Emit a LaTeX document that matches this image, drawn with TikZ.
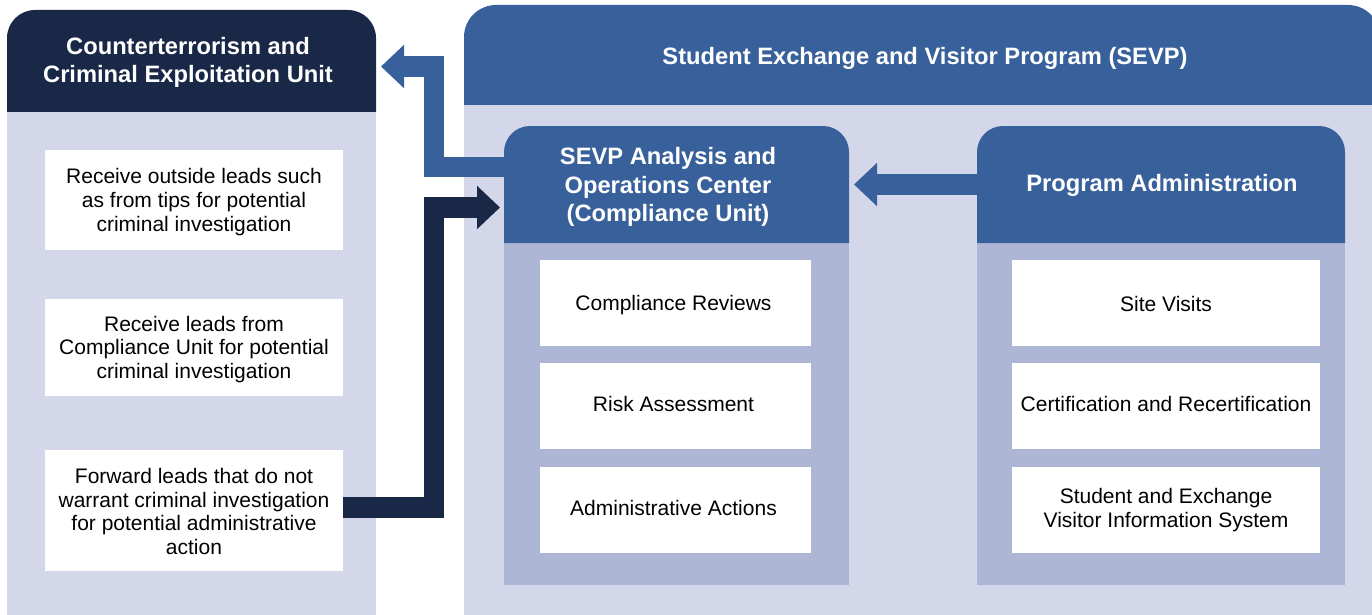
\documentclass[tikz,border=0pt]{standalone}
\usepackage{fontspec}
\setmainfont{Liberation Sans}
\usetikzlibrary{arrows.meta}
\definecolor{navy}{RGB}{26,40,72}
\definecolor{sblue}{RGB}{56,97,156}
\definecolor{lightlav}{RGB}{212,215,234}
\definecolor{midlav}{RGB}{174,182,214}
\tikzset{
  headtxt/.style={text=white,font=\fontsize{23.7}{28.7}\selectfont\bfseries,align=center,inner sep=0pt},
  bodytxt/.style={text=black,font=\fontsize{21}{23.6}\selectfont,align=center,inner sep=0pt},
  whitebox/.style={fill=white,draw=none,inner sep=0pt},
  blockarrow/.style={line width=20.5pt,line join=miter,line cap=butt,-{Triangle[length=23pt,width=42pt]}},
}
\begin{document}
\begin{tikzpicture}[x=1pt,y=-1pt]
\useasboundingbox (0,0) rectangle (1372,615);
% left panel
\fill[lightlav] (7,112) rectangle (376,615);
\fill[navy] (7,112) [rounded corners=28pt] -- (7,10) -- (376,10) [sharp corners] -- (376,112) -- cycle;
% SEVP outer
\fill[lightlav] (464,105) rectangle (1372,615);
\fill[sblue] (464,105) [rounded corners=32pt] -- (464,5) -- (1380,5) [sharp corners] -- (1380,105) -- cycle;
% inner SEVP analysis
\fill[midlav] (504,243) rectangle (849,585);
\fill[sblue] (504,243) [rounded corners=26pt] -- (504,126) -- (849,126) [sharp corners] -- (849,243) -- cycle;
% program administration
\fill[midlav] (977,243) rectangle (1345,585);
\fill[sblue] (977,243) [rounded corners=26pt] -- (977,126) -- (1345,126) [sharp corners] -- (1345,243) -- cycle;

% header texts
\node[headtxt] (cteu) at (188,62.5) {Counterterrorism and\\Criminal Exploitation Unit};
\node[headtxt] (sevp) at (925,58) {Student Exchange and Visitor Program (SEVP)};
\node[headtxt] (saoc) at (668,187) {SEVP Analysis and\\Operations Center\\(Compliance Unit)};
\node[headtxt] (padm) at (1162,185) {Program Administration};

% left boxes
\node[whitebox,minimum width=298pt,minimum height=100pt] (l1) at (194,200) {};
\node[bodytxt] at ([yshift=-2pt]l1) {Receive outside leads such\\as from tips for potential\\criminal investigation};
\node[whitebox,minimum width=298pt,minimum height=97pt] (l2) at (194,347.5) {};
\node[bodytxt] at ([yshift=-2pt]l2) {Receive leads from\\Compliance Unit for potential\\criminal investigation};
\node[whitebox,minimum width=298pt,minimum height=121pt] (l3) at (194,510.5) {};
\node[bodytxt] at ([yshift=-1pt]l3) {Forward leads that do not\\warrant criminal investigation\\for potential administrative\\action};

% middle boxes
\node[whitebox,minimum width=271pt,minimum height=86pt] (m1) at (675.5,303) {};
\node[bodytxt] at (673.5,305) {Compliance Reviews};
\node[whitebox,minimum width=271pt,minimum height=86pt] (m2) at (675.5,406) {};
\node[bodytxt] at (673.5,404) {Risk Assessment};
\node[whitebox,minimum width=271pt,minimum height=86pt] (m3) at (675.5,510) {};
\node[bodytxt] at (673.5,508) {Administrative Actions};

% right boxes
\node[whitebox,minimum width=308pt,minimum height=86pt] (r1) at (1166,303) {};
\node[bodytxt] at (1166,303.5) {Site Visits};
\node[whitebox,minimum width=308pt,minimum height=86pt] (r2) at (1166,406) {};
\node[bodytxt] at (1166,404) {Certification and Recertification};
\node[whitebox,minimum width=308pt,minimum height=86pt] (r3) at (1166,510) {};
\node[bodytxt] at (1166,510) {Student and Exchange\\Visitor Information System};

% arrow anchor coordinates
\coordinate (saocW) at (504,167);
\coordinate (cteuE) at (381,66.5);
\coordinate (l3E) at (343,507.5);
\coordinate (saocIn) at (500,207.5);
\coordinate (padmW) at (977,184.5);
\coordinate (saocE) at (854,184.5);

\draw[blockarrow,sblue] (saocW) -| (434,66.5) -- (cteuE);
\draw[blockarrow,navy] (l3E) -| (434,207.5) -- (saocIn);
\draw[blockarrow,sblue] (padmW) -- (saocE);
\end{tikzpicture}
\end{document}
